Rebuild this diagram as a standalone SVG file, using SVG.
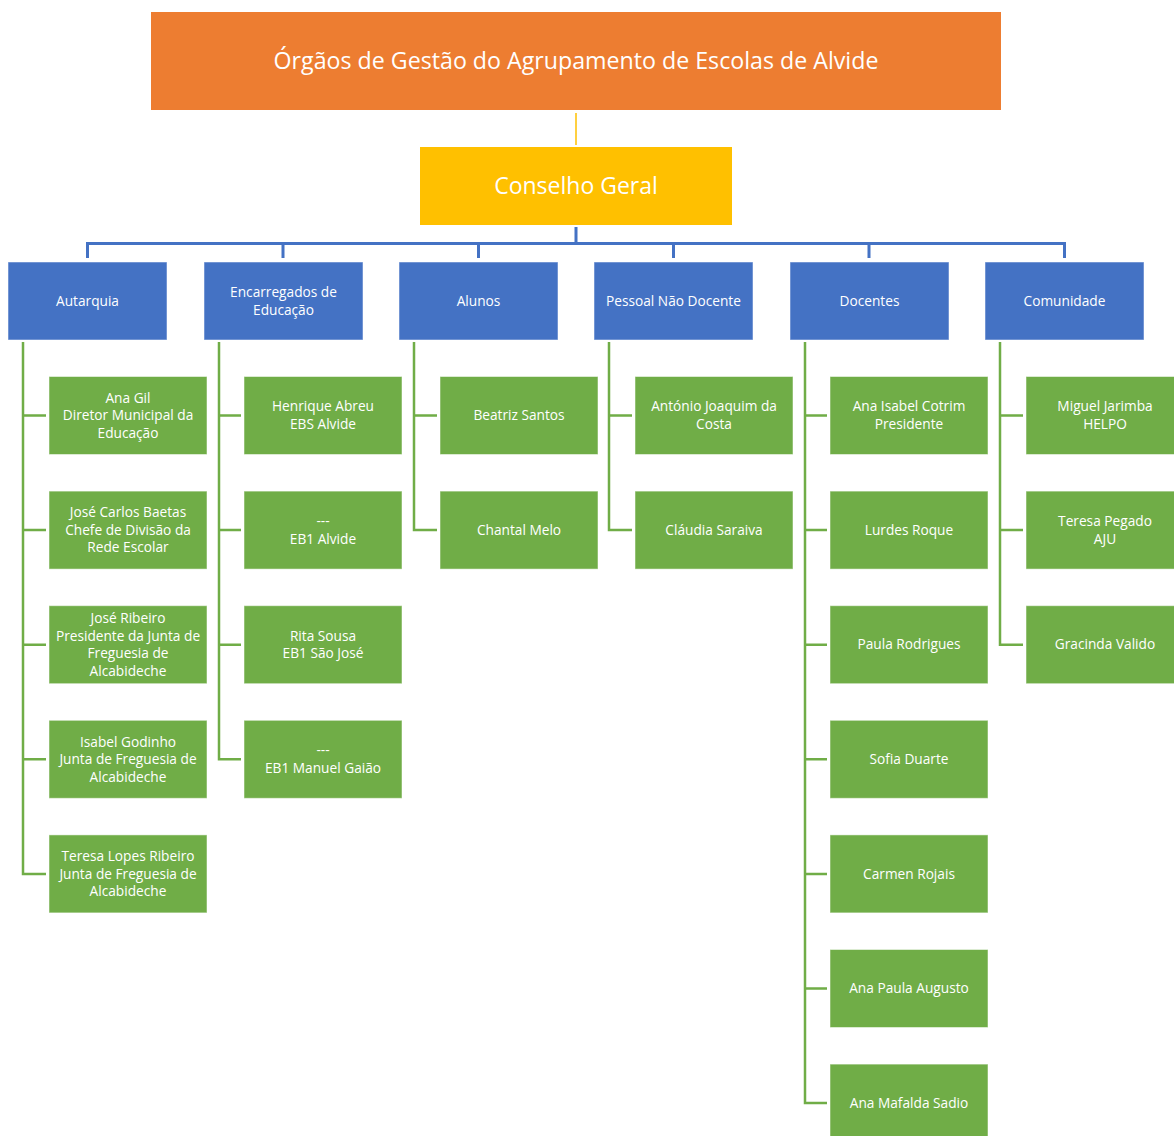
<svg xmlns="http://www.w3.org/2000/svg" width="1174" height="1136" viewBox="0 0 1174 1136">
<style>
text{font-family:"Open Sans","Noto Sans","Liberation Sans",sans-serif;fill:#fff;text-anchor:middle}
.t{font-size:23.2px}
.t2{font-size:23px}
.s{font-size:13.7px}
.top{fill:#ED7D31}
.cg{fill:#FFC000}
.b{fill:#4472C4;stroke:#fff;stroke-opacity:0.5;stroke-width:1}
.g{fill:#70AD47;stroke:#fff;stroke-opacity:0.5;stroke-width:1}
.cb{stroke:#4472C4;stroke-width:3;fill:none}
.cgl{stroke:#70AD47;stroke-width:2.5;fill:none}
.co{stroke:#FFC000;stroke-width:1.5;fill:none}
</style>
<rect width="1174" height="1136" fill="#fff"/>
<g id="connectors">
<line class="co" x1="576" y1="113" x2="576" y2="145"/>
<path class="cb" d="M576 227V243.5M87.5 258V243.5H1064.5V258M283 243.5V258M478.5 243.5V258M673.5 243.5V258M869 243.5V258"/>
<path class="cgl" d="M23 342V873.9H46M23 415.5H46M23 530.1H46M23 644.7H46M23 759.3H46"/>
<path class="cgl" d="M219 342V759.3H241M219 415.5H241M219 530.1H241M219 644.7H241"/>
<path class="cgl" d="M414 342V530.1H437M414 415.5H437"/>
<path class="cgl" d="M609 342V530.1H632M609 415.5H632"/>
<path class="cgl" d="M805 342V1103.1H827M805 415.5H827M805 530.1H827M805 644.7H827M805 759.3H827M805 873.9H827M805 988.5H827"/>
<path class="cgl" d="M1000 342V644.7H1023M1000 415.5H1023M1000 530.1H1023"/>
</g>
<g id="title"><rect class="top" x="151" y="12" width="850" height="98"/><text class="t" x="576" y="69">Órgãos de Gestão do Agrupamento de Escolas de Alvide</text></g>
<g id="conselho"><rect class="cg" x="420" y="147" width="312" height="78"/><text class="t2" x="576" y="194">Conselho Geral</text></g>
<g id="autarquia"><rect class="b" x="8" y="262" width="159" height="78"/><text class="s" x="87.5" y="305.5">Autarquia</text></g>
<g id="encarregados"><rect class="b" x="204" y="262" width="159" height="78"/><text class="s" x="283.5" y="297">Encarregados de<tspan x="283.5" dy="17.5">Educação</tspan></text></g>
<g id="alunos"><rect class="b" x="399" y="262" width="159" height="78"/><text class="s" x="478.5" y="305.5">Alunos</text></g>
<g id="pessoal"><rect class="b" x="594" y="262" width="159" height="78"/><text class="s" x="673.5" y="305.5">Pessoal Não Docente</text></g>
<g id="docentes"><rect class="b" x="790" y="262" width="159" height="78"/><text class="s" x="869.5" y="305.5">Docentes</text></g>
<g id="comunidade"><rect class="b" x="985" y="262" width="159" height="78"/><text class="s" x="1064.5" y="305.5">Comunidade</text></g>

<g id="a1"><rect class="g" x="49" y="376.5" width="158" height="78"/><text class="s" x="128" y="402.7">Ana Gil<tspan x="128" dy="17.5">Diretor Municipal da</tspan><tspan x="128" dy="17.5">Educação</tspan></text></g>
<g id="a2"><rect class="g" x="49" y="491.1" width="158" height="78"/><text class="s" x="128" y="517.3">José Carlos Baetas<tspan x="128" dy="17.5">Chefe de Divisão da</tspan><tspan x="128" dy="17.5">Rede Escolar</tspan></text></g>
<g id="a3"><rect class="g" x="49" y="605.7" width="158" height="78"/><text class="s" x="128" y="623.15">José Ribeiro<tspan x="128" dy="17.5">Presidente da Junta de</tspan><tspan x="128" dy="17.5">Freguesia de</tspan><tspan x="128" dy="17.5">Alcabideche</tspan></text></g>
<g id="a4"><rect class="g" x="49" y="720.3" width="158" height="78"/><text class="s" x="128" y="746.5">Isabel Godinho<tspan x="128" dy="17.5">Junta de Freguesia de</tspan><tspan x="128" dy="17.5">Alcabideche</tspan></text></g>
<g id="a5"><rect class="g" x="49" y="834.9" width="158" height="78"/><text class="s" x="128" y="861.1">Teresa Lopes Ribeiro<tspan x="128" dy="17.5">Junta de Freguesia de</tspan><tspan x="128" dy="17.5">Alcabideche</tspan></text></g>

<g id="e1"><rect class="g" x="244" y="376.5" width="158" height="78"/><text class="s" x="323" y="411.45">Henrique Abreu<tspan x="323" dy="17.5">EBS Alvide</tspan></text></g>
<g id="e2"><rect class="g" x="244" y="491.1" width="158" height="78"/><text class="s" x="323" y="526.05">---<tspan x="323" dy="17.5">EB1 Alvide</tspan></text></g>
<g id="e3"><rect class="g" x="244" y="605.7" width="158" height="78"/><text class="s" x="323" y="640.65">Rita Sousa<tspan x="323" dy="17.5">EB1 São José</tspan></text></g>
<g id="e4"><rect class="g" x="244" y="720.3" width="158" height="78"/><text class="s" x="323" y="755.25">---<tspan x="323" dy="17.5">EB1 Manuel Gaião</tspan></text></g>

<g id="al1"><rect class="g" x="440" y="376.5" width="158" height="78"/><text class="s" x="519" y="420.2">Beatriz Santos</text></g>
<g id="al2"><rect class="g" x="440" y="491.1" width="158" height="78"/><text class="s" x="519" y="534.8">Chantal Melo</text></g>

<g id="p1"><rect class="g" x="635" y="376.5" width="158" height="78"/><text class="s" x="714" y="411.45">António Joaquim da<tspan x="714" dy="17.5">Costa</tspan></text></g>
<g id="p2"><rect class="g" x="635" y="491.1" width="158" height="78"/><text class="s" x="714" y="534.8">Cláudia Saraiva</text></g>

<g id="d1"><rect class="g" x="830" y="376.5" width="158" height="78"/><text class="s" x="909" y="411.45">Ana Isabel Cotrim<tspan x="909" dy="17.5">Presidente</tspan></text></g>
<g id="d2"><rect class="g" x="830" y="491.1" width="158" height="78"/><text class="s" x="909" y="534.8">Lurdes Roque</text></g>
<g id="d3"><rect class="g" x="830" y="605.7" width="158" height="78"/><text class="s" x="909" y="649.4">Paula Rodrigues</text></g>
<g id="d4"><rect class="g" x="830" y="720.3" width="158" height="78"/><text class="s" x="909" y="764">Sofia Duarte</text></g>
<g id="d5"><rect class="g" x="830" y="834.9" width="158" height="78"/><text class="s" x="909" y="878.6">Carmen Rojais</text></g>
<g id="d6"><rect class="g" x="830" y="949.5" width="158" height="78"/><text class="s" x="909" y="993.2">Ana Paula Augusto</text></g>
<g id="d7"><rect class="g" x="830" y="1064.1" width="158" height="78"/><text class="s" x="909" y="1107.8">Ana Mafalda Sadio</text></g>

<g id="c1"><rect class="g" x="1026" y="376.5" width="158" height="78"/><text class="s" x="1105" y="411.45">Miguel Jarimba<tspan x="1105" dy="17.5">HELPO</tspan></text></g>
<g id="c2"><rect class="g" x="1026" y="491.1" width="158" height="78"/><text class="s" x="1105" y="526.05">Teresa Pegado<tspan x="1105" dy="17.5">AJU</tspan></text></g>
<g id="c3"><rect class="g" x="1026" y="605.7" width="158" height="78"/><text class="s" x="1105" y="649.4">Gracinda Valido</text></g>
</svg>
